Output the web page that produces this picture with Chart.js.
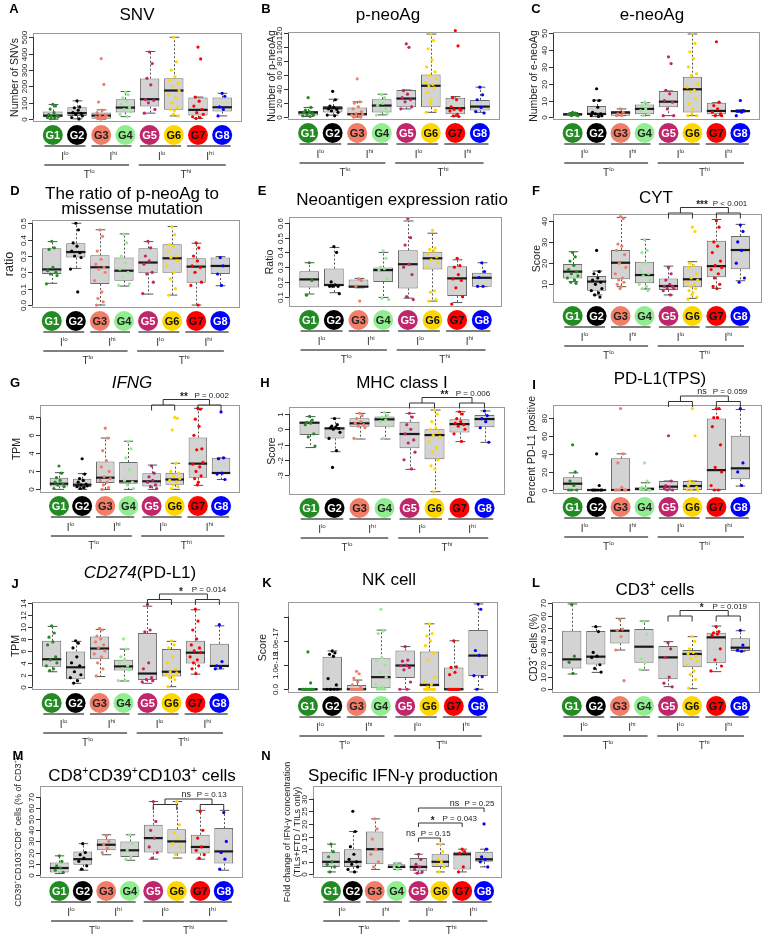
<!DOCTYPE html>
<html>
<head>
<meta charset="utf-8">
<script src="https://cdn.jsdelivr.net/npm/chart.js@4.4.1/dist/chart.umd.min.js"></script>
<style>
  html, body { margin: 0; padding: 0; background: #fff; }
  body { width: 764px; height: 948px; position: relative; overflow: hidden; }
  canvas { position: absolute; }
</style>
</head>
<body>
<script>
/* groups + colours */
const GROUPS = ['G1', 'G2', 'G3', 'G4', 'G5', 'G6', 'G7', 'G8'];
const GROUP_COLORS = ['#228B22', '#000000', '#F27D68', '#90EE90', '#C0266B', '#FFD700', '#FF0000', '#0000FF'];
const CIRCLE_TEXT  = ['#fff', '#fff', '#222', '#222', '#fff', '#111', '#111', '#fff'];
const I_LABELS = ['lo', 'hi', 'lo', 'hi'];
const T_LABELS = ['lo', 'hi'];

/* box stats per group: [lower whisker, q1, median, q3, upper whisker] */
/* A  SNV */
const snvBox = [[0,12,22,47,90],[2,20,37,73,112],[0,3,22,41,57],[16,41,71,122,169],[37,77,122,248,413],[20,57,175,250,500],[5,22,57,132,135],[20,47,73,132,158]];
const snvPts = [[90,80,62,40,28,22,18,14,10,6,3],[112,75,70,55,40,36,30,20,10,2],[370,212,105,55,40,28,22,18,14,12,10,8,5,3,1],[165,150,130,110,90,72,60,45,30,16],[410,340,250,210,120,115,100,60,37],[500,350,300,260,240,220,200,175,150,130,100,70,60,50,30,20],[440,368,135,110,80,60,40,30,15,10,5],[158,140,75,60,20]];
const snvTicks = [0,100,200,300,400,500];

/* B  p-neoAg */
const pneoBox = [[1,2.4,6.7,9,14],[3,6.7,12.9,16,25.7],[0,2.4,4.3,13.8,22],[3.3,6.7,16.7,25.7,32.9],[11.9,14.3,26.7,39,39],[7,14.3,45,61,119],[1,4.3,12.9,28,29.5],[7,9.5,15.2,24.8,43]];
const pneoPts = [[28,14,10,8,7,5,4,3,2,1],[37,25,16,14,12,11,9,7,3,2],[55,22,20,15,12,8,5,4,3,2,1,0,0],[32,28,25,20,17,12,8,5,3],[105,100,38,33,28,25,22,15,12],[119,110,98,82,72,65,60,55,50,47,45,42,35,25,20,10,7],[124,102,28,25,15,12,11,10,9,4,2,1],[43,32,25,14,8,6]];
const pneoTicks = [0,20,40,60,80,100,120];

/* C  e-neoAg */
const eneoBox = [[1,1,1.8,2.4,2.8],[0.4,1.4,2,6.7,10.3],[1,1,2.8,3.8,5],[1,1.8,5,7.7,8.7],[1,6,9.3,15.7,15.7],[1,2.8,16.7,24.2,49.6],[1,1.8,3.8,8.7,8.7],[3,3.1,3.7,4.4,4.5]];
const eneoPts = [[3,2.5,2,2,1.8,1.5,1,1],[17,10,10,6,3,2,2,1,1,0.5],[5,3,2,1,1],[9,8,7,5,4,2,1],[36,32,16,14,10,9,5,1,1],[50,44,39,35,30,26,25,20,18,16,15,11,8,5,2,1,1],[45,9,7,5,3,2,1,1],[10,4,3.6,3,1]];
const eneoTicks = [0,10,20,30,40,50];

/* D  ratio p-neoAg / missense */
const ratioBox = [[0.133,0.19,0.218,0.347,0.388],[0.224,0.29,0.324,0.378,0.5],[0,0.129,0.231,0.304,0.46],[0.116,0.149,0.21,0.29,0.435],[0.067,0.194,0.26,0.347,0.388],[0.061,0.198,0.286,0.371,0.48],[0,0.137,0.235,0.286,0.378],[0.118,0.19,0.239,0.29,0.296]];
const ratioPts = [[0.39,0.35,0.34,0.23,0.21,0.2,0.19,0.18,0.13],[0.5,0.46,0.38,0.36,0.33,0.32,0.3,0.29,0.22,0.08],[0.46,0.42,0.33,0.28,0.25,0.23,0.22,0.2,0.15,0.08,0.04,0.02,0],[0.43,0.38,0.3,0.26,0.22,0.2,0.17,0.13,0.12],[0.39,0.35,0.3,0.27,0.25,0.2,0.19,0.14,0.07],[0.48,0.43,0.37,0.36,0.33,0.3,0.29,0.27,0.24,0.2,0.16,0.1,0.06],[0.38,0.35,0.3,0.27,0.24,0.23,0.2,0.14,0.12,0],[0.29,0.24,0.19,0.12]];
const ratioTicks = [0,0.1,0.2,0.3,0.4,0.5];
const ratioTickText = ['0.0','0.1','0.2','0.3','0.4','0.5'];

/* E  neoantigen expression ratio */
const exprBox = [[0.118,0.163,0.217,0.273,0.33],[0.127,0.172,0.179,0.291,0.433],[0.16,0.163,0.168,0.217,0.224],[0.095,0.2,0.28,0.298,0.4],[0.09,0.156,0.32,0.415,0.613],[0.07,0.285,0.36,0.404,0.53],[0.06,0.105,0.224,0.307,0.35],[0.168,0.168,0.228,0.262,0.33]];
const exprPts = [[0.33,0.21,0.11],[0.44,0.4,0.2,0.18,0.17,0.17,0.17,0.12],[0.22,0.21,0.17,0.07],[0.41,0.36,0.3,0.29,0.28,0.22,0.09,0.08],[0.63,0.5,0.45,0.32,0.3,0.25,0.1,0.08],[0.55,0.43,0.42,0.41,0.39,0.37,0.35,0.33,0.3,0.14,0.13,0.08,0.07],[0.36,0.31,0.3,0.25,0.22,0.21,0.16,0.1,0.05],[0.33,0.27,0.23,0.17,0.17]];
const exprTicks = [0.1,0.2,0.3,0.4,0.5,0.6];

/* F  CYT */
const cytBox = [[11.3,12.8,16,19.6,25.4],[5,7,11.3,13.9,16.3],[8.9,12.4,20.2,26.2,41.6],[7.8,10.5,14.4,20.7,31.2],[5,7.3,9.2,12.8,18.6],[3.4,8.6,12.4,18.6,20.7],[8.1,13.3,18.6,30.6,40.6],[11.7,17.1,26.2,32.8,38.3]];
const cytPts = [[25,23,21,19,17,16,15,14,13,12,11,10.5],[26,16,15,13,12,11,10,8,7,6,5,4],[42,41,29,28,26,24,20,18,15,13,12,11,10,9,8],[31,26,25,20,16,15,14,12,10,9,8,7],[18,15,12,10,9,9,8,8,7,5],[37,35,20,19,18,15,13,12,11,10,9,8,7,6,5,4,3],[40,37,30,28,25,21,19,18,17,15,13,10,9,8],[38,35,30,26,20,13,11]];
const cytTicks = [10,20,30,40];

/* G  IFNG */
const ifngBox = [[0,0.33,0.63,1.3,1.86],[0,0.26,0.52,1.19,1.75],[0,0.7,1.3,3.1,5.7],[0,0.63,0.9,3.05,5.35],[0,0.33,0.9,1.8,2.7],[0,0.52,1.1,1.86,2.9],[0.45,1.3,2.86,5.76,9.0],[1.1,1.75,1.82,3.5,3.5]];
const ifngPts = [[2.6,1.8,1.3,1.0,0.8,0.6,0.5,0.3,0.1],[3.4,1.7,1.2,1.0,0.8,0.6,0.5,0.4,0.3,0.2,0.1],[6.8,5.7,4.3,3.2,2.5,2.0,1.4,1.2,1.0,0.8,0.5,0.2,0],[5.3,4.5,3.5,2.2,1.0,0.8,0.5,0.1],[2.6,1.8,1.4,1.0,0.8,0.5,0.3,0.1],[8.0,7.9,6.6,2.9,2.0,1.8,1.5,1.2,1.0,0.8,0.5,0.3,0.1],[9.0,8.9,7.8,7.0,6.0,4.5,4.4,3.0,2.8,2.5,2.0,1.5,1.2,0.8,0.5],[8.6,3.5,3.4,1.8,1.7,1.1]];
const ifngTicks = [0,2,4,6,8];

/* H  MHC class I */
const mhcBox = [[-1.2,-0.38,0.43,0.48,0.83],[-1.47,-0.6,0.06,0.1,0.72],[-0.64,0.17,0.39,0.72,1.04],[-0.64,0.17,0.65,0.83,1.1],[-2.63,-1.25,-0.31,0.5,1.04],[-4.09,-1.97,-0.38,0,1.26],[-0.81,-0.22,0.34,0.65,1.15],[-0.86,0.13,0.67,0.93,1.2]];
const mhcPts = [[0.85,0.6,0.45,0.4,0.3,-0.3,-0.5,-1.1],[0.7,0.3,0.2,0.15,0.1,0.05,0,-0.2,-0.6,-1.4,-2.5],[1.05,0.9,0.7,0.5,0.4,0.3,0.2,0.1,-0.6],[1.1,0.9,0.8,0.6,0.5,0.2,-0.6],[1.05,0.8,0.3,0,-0.3,-0.7,-0.9,-1.5,-2,-2.6],[1.25,1.0,0.5,0.1,0,-0.2,-0.4,-0.5,-0.8,-1.2,-1.5,-2,-2.4,-2.6,-4.1],[1.15,1.0,0.7,0.5,0.4,0.3,0.2,0,-0.3,-0.8],[1.2,0.9,0.7,0.5,0.1,-0.85]];
const mhcTicks = [-3,-2,-1,0,1];

/* I  PD-L1 (TPS) */
const pdl1Box = [[0,0,7,14,19],[0,0,0,0,0],[0,0,0,35,40],[0,0,1,3,8],[0,0,3.7,10,10],[0,0,4.4,10,10],[0,0,22,79,89],[4.4,12,24,60,89]];
const pdl1Pts = [[50,20,10,5,0,0,0],[40,5,0,0,0,0,0,0],[90,40,30,3,0,0,0,0,0],[30,10,3,2,1,0,0,0],[60,10,5,3,2,0,0],[90,60,10,8,5,3,0,0,0],[90,90,80,80,70,50,25,20,5,0,0],[90,30,20,5]];
const pdl1Ticks = [0,20,40,60,80];

/* J  CD274 (PD-L1) */
const cd274Box = [[2.5,3.36,4.6,7.7,10.1],[0.56,1.23,3.25,5.9,7.6],[1.7,4.6,6.4,8.4,9.6],[0.95,2.7,3.4,4.5,6.3],[0.56,1.1,2.2,9,13.5],[0,1.7,2.5,6.3,7.6],[2.1,3.9,5.7,7.7,12.9],[2.97,3.36,3.47,7.2,10.2]];
const cd274Pts = [[10.2,9,8.3,7.5,7,5,4.5,4,3.5,3,2.7],[7.7,7.3,6.5,5,4,3.5,2.5,2,1.5,1,0.6],[9.8,9.5,8.5,8,7.5,7,6.5,6,5.5,5,4,3,1.8],[8,6.3,5,4.5,4,3.5,3,2.8,1,1],[13.8,9.5,9.2,4,3,1.5,1.2,1.0,0.8],[7.7,7,6.5,5,4,3,2.5,2.3,2,1.8,1.5,1.2,0],[13,11,9.5,8,7,6.5,6,5.7,5,4.5,4,3.5,3,2.2],[10.4,4.2,3.5,3.2,3]];
const cd274Ticks = [0,2,4,6,8,10,12,14];

/* K  NK cell (score in units of 1e-18) */
const nkBox = [[0,0,0,0,0],[0,0,0,6.7,7.9],[0,0,0,0.9,1.9],[0,0.2,2.5,6.4,12.2],[0,2.3,4.9,8,8.8],[0,0.55,0.9,7.8,13.5],[0,0,0,4.5,10],[0,2.75,6.95,12.25,17.6]];
const nkPts = [[7.7,1.3,0,0,0,0,0,0,0,0,0,0],[7.9,7.5,7.2,6.8,2.2,0.9,0,0,0,0,0],[3.7,3.2,2.3,1.5,0.9,0.5,0,0,0,0,0,0,0,0],[16.5,12,11.5,6.5,6,5,3.5,2.5,1,0.5,0.3,0,0,0],[8.8,6,5.8,5,4.9,4.5,4,1.5,0,0],[13.5,11.5,11,10,9,7.5,6,2.5,1.5,1,0.5,0,0,0,0,0,0,0,0,0,0],[10,4.6,4.5,3.5,3,0,0,0,0,0,0,0,0,0,0],[17.6,16.5,8,7,2.8,2.6,0]];
const nkTicks = [0,5,10,15];
const nkTickText = ['0.0','1.0e-18','1.0e-17',''];

/* L  CD3+ cells */
const cd3Box = [[12.5,17,24.4,47.7,69.5],[13.8,20.3,26.6,47.5,51],[32,37.4,47.7,48.3,57.8],[15.7,21.7,34.7,49.1,55.6],[2.2,8.1,26,35.3,38.8],[0.5,17.9,28.8,32,42.9],[14.4,21.2,42.3,46.1,51.5],[30.7,31.2,33.9,41.5,47.7]];
const cd3Pts = [[69,27,22,13],[51,47,30,27,26,20,17,14],[57,49,48,43,32,7],[55,45,25,22,16],[38,33,26,10,5,2],[43,39,33,30,29,27,25,23,20,15,12,8,1],[51,47,46,45,44,33,24,19,15],[48,36,32,31]];
const cd3Ticks = [0,10,20,30,40,50,60,70];

/* M  CD8+CD39+CD103+ cells */
const cd8Box = [[1,2,6,11,17],[4,9,14,21,28],[18,22,27,32,36],[13,16,22,30,36],[14,20,33,45,66],[15,19,30,41,66],[14,19,25,36,58],[4,10,21,42,58]];
const cd8Pts = [[17,12,8,6,4,2],[28,20,18,15,12,8,5],[35,30,27,24,20],[36,28,22,16,14],[66,48,40,33,25,20,15],[66,45,38,33,28,25,18],[57,40,33,25,22,18,15],[56,30,20,14,5]];
const cd8Ticks = [0,10,20,30,40,50,60,70];

/* N  Specific IFN-gamma production */
const ifnBox = [[1,3,5,9,12],[1,3,5,10,17],[2,4,10,17,22],[2,2.5,3,4,4.5],[0.5,1.5,3,6.5,8],[1,3,5,8,12],[1,2,8,9,10],[3,5,6,9,10]];
const ifnPts = [[12,9,7,5,4,3,1],[25,17,11,8,6,5,4,3,2,1],[22,18,14,10,8,5,3],[4.5,3.5,3,2],[8,6,4,3,2,1,0.5],[12,9,6,5,4,3,1],[10,9,8.5,3,1],[20,10,7,6,5,3]];
const ifnTicks = [0,5,10,15,20,25,30];

const FONT = '"Liberation Sans", Arial, Helvetica, sans-serif';
const PAGE_W = 764;
const JIT = [0, 0.11, -0.11, 0.05, -0.17, 0.17, -0.05, 0.22, -0.22, 0.08, -0.08, 0.14, -0.14, 0.02, -0.02, 0.19, -0.19, 0.1, -0.1, 0.2, -0.2];
const sup = t => ({ t, sup: true });

const panels = [
  { letter: 'A', lpos: [14, 8],  title: [[{t:'SNV'}]], tpos: [137, 14], ylab: [[{t:'Number of SNVs'}]], ylabOff: 19,
    box: snvBox, pts: snvPts, ticks: snvTicks, ymin: -17, ymax: 526, plot: [33, 33, 242, 122] },
  { letter: 'B', lpos: [266, 8], title: [[{t:'p-neoAg'}]], tpos: [388, 14], ylab: [[{t:'Number of p-neoAg'}]], ylabOff: 17,
    box: pneoBox, pts: pneoPts, ticks: pneoTicks, ymin: -4, ymax: 122, plot: [288, 32, 500, 120] },
  { letter: 'C', lpos: [536, 8], title: [[{t:'e-neoAg'}]], tpos: [652, 14], ylab: [[{t:'Number of e-neoAg'}]], ylabOff: 20,
    box: eneoBox, pts: eneoPts, ticks: eneoTicks, ymin: -1.6, ymax: 50.8, plot: [553, 32, 760, 120] },
  { letter: 'D', lpos: [15, 190], title: [[{t:'The ratio of p-neoAg to'}], [{t:'missense mutation'}]], tpos: [132, 193], ylab: [[{t:'ratio'}]], ylabOff: 24, ylabSize: 12.5,
    box: ratioBox, pts: ratioPts, ticks: ratioTicks, tickText: ratioTickText, ymin: -0.018, ymax: 0.52, plot: [32, 220, 240, 308] },
  { letter: 'E', lpos: [262, 190], title: [[{t:'Neoantigen expression ratio'}]], tpos: [402, 199], ylab: [[{t:'Ratio'}]], ylabOff: 20,
    box: exprBox, pts: exprPts, ticks: exprTicks, ymin: 0.03, ymax: 0.64, plot: [289, 217, 502, 307] },
  { letter: 'F', lpos: [536, 190], title: [[{t:'CYT'}]], tpos: [656, 197], ylab: [[{t:'Score'}]], ylabOff: 17,
    box: cytBox, pts: cytPts, ticks: cytTicks, ymin: 1.2, ymax: 43.2, plot: [553, 214, 762, 303],
    sig: { top: 207.5, stars: '***', p: 'P < 0.001' } },
  { letter: 'G', lpos: [15, 382], title: [[{t:'IFNG', it: true}]], tpos: [132, 382], ylab: [[{t:'TPM'}]], ylabOff: 24,
    box: ifngBox, pts: ifngPts, ticks: ifngTicks, ymin: -0.4, ymax: 9.37, plot: [40, 405, 240, 493],
    sig: { top: 399.5, stars: '**', p: 'P = 0.002' } },
  { letter: 'H', lpos: [265, 382], title: [[{t:'MHC class I'}]], tpos: [402, 382], ylab: [[{t:'Score'}]], ylabOff: 18,
    box: mhcBox, pts: mhcPts, ticks: mhcTicks, ymin: -4.31, ymax: 1.46, plot: [289, 407, 505, 495],
    sig: { top: 397.5, stars: '**', p: 'P = 0.006' } },
  { letter: 'I', lpos: [534, 384], title: [[{t:'PD-L1(TPS)'}]], tpos: [660, 378], ylab: [[{t:'Percent PD-L1 positive'}]], ylabOff: 22,
    box: pdl1Box, pts: pdl1Pts, ticks: pdl1Ticks, ymin: -4.4, ymax: 94, plot: [553, 405, 762, 494],
    sig: { top: 396, stars: 'ns', p: 'P = 0.059' } },
  { letter: 'J', lpos: [15, 583], title: [[{t:'CD274', it: true}, {t:'(PD-L1)'}]], tpos: [140, 572], ylab: [[{t:'TPM'}]], ylabOff: 17,
    box: cd274Box, pts: cd274Pts, ticks: cd274Ticks, ymin: -0.56, ymax: 14.2, plot: [32, 602, 239, 690],
    sig: { top: 594, stars: '*', p: 'P = 0.014' } },
  { letter: 'K', lpos: [267, 582], title: [[{t:'NK cell'}]], tpos: [389, 579], ylab: [[{t:'Score'}]], ylabOff: 26, tickOff: 12,
    box: nkBox, pts: nkPts, ticks: nkTicks, tickText: nkTickText, ymin: -0.77, ymax: 18.0, plot: [288, 602, 498, 693] },
  { letter: 'L', lpos: [536, 582], title: [[{t:'CD3'}, sup('+'), {t:' cells'}]], tpos: [655, 589], ylab: [[{t:'CD3'}, sup('+'), {t:' cells (%)'}]], ylabOff: 19,
    box: cd3Box, pts: cd3Pts, ticks: cd3Ticks, ymin: -3, ymax: 71.1, plot: [552, 602, 760, 693],
    sig: { top: 610.5, stars: '*', p: 'P = 0.019' } },
  { letter: 'M', lpos: [18, 755], title: [[{t:'CD8'}, sup('+'), {t:'CD39'}, sup('+'), {t:'CD103'}, sup('+'), {t:' cells'}]], tpos: [142, 775],
    ylab: [[{t:'CD39'}, sup('+'), {t:'CD103'}, sup('+'), {t:'CD8'}, sup('+'), {t:' cells (% of CD3'}, sup('+'), {t:')'}]], ylabOff: 22, ylabSize: 9,
    box: cd8Box, pts: cd8Pts, ticks: cd8Ticks, ymin: -3, ymax: 80, plot: [40, 786, 243, 878],
    sig: { top: 799, stars: 'ns', p: 'P = 0.13' } },
  { letter: 'N', lpos: [266, 755], title: [[{t:'Specific IFN-\u03b3 production'}]], tpos: [403, 775],
    ylab: [[{t:'Fold change of IFN-\u03b3 concentration'}], [{t:'(TILs+FTD / TILs only)'}]], ylabOff: 16, ylabSize: 9,
    box: ifnBox, pts: ifnPts, ticks: ifnTicks, ymin: -1.4, ymax: 35, plot: [313, 786, 502, 878],
    singles: [ { y: 808, to: 8, stars: 'ns', p: 'P = 0.25' }, { y: 823, to: 7, stars: '*', p: 'P = 0.043' }, { y: 838, to: 6, stars: 'ns', p: 'P = 0.15' } ] }
];

function segFont(s, size) {
  return (s.it ? 'italic ' : '') + (s.b ? 'bold ' : '') + (s.sup ? size * 0.62 : size).toFixed(1) + 'px ' + FONT;
}

/* draw a run of text pieces (superscripts, italics) centred on x,y */
function textRich(ctx, segs, x, y, size, rotate) {
  ctx.save();
  ctx.translate(x, y);
  if (rotate) ctx.rotate(-Math.PI / 2);
  let w = 0;
  segs.forEach(s => { ctx.font = segFont(s, size); w += ctx.measureText(s.t).width; });
  let px = -w / 2;
  ctx.textAlign = 'left';
  ctx.textBaseline = 'alphabetic';
  segs.forEach(s => {
    ctx.font = segFont(s, size);
    ctx.fillText(s.t, px, size * 0.36 - (s.sup ? size * 0.42 : 0));
    px += ctx.measureText(s.t).width;
  });
  ctx.restore();
}

function hline(ctx, x1, x2, y) { ctx.beginPath(); ctx.moveTo(x1, y); ctx.lineTo(x2, y); ctx.stroke(); }
function vline(ctx, x, y1, y2) { ctx.beginPath(); ctx.moveTo(x, y1); ctx.lineTo(x, y2); ctx.stroke(); }

function drawSig(ctx, stars, ptxt, sx, px, y) {
  ctx.textBaseline = 'middle';
  ctx.textAlign = 'center';
  ctx.font = (stars === 'ns' ? '9px ' : 'bold 10px ') + FONT;
  ctx.fillText(stars, sx, stars === 'ns' ? y : y + 2);
  ctx.textAlign = 'left';
  ctx.font = '8px ' + FONT;
  ctx.fillText(ptxt, px, y);
}

function makeDecor(p, cy) {
  return {
    id: 'boxDecor',
    beforeDatasetsDraw(chart) {
      const ctx = chart.ctx, xs = chart.scales.x, ys = chart.scales.y;
      const bars = chart.getDatasetMeta(1).data;
      ctx.save();
      ctx.strokeStyle = '#555';
      ctx.lineWidth = 1;
      p.box.forEach((b, i) => {
        const x = Math.round(xs.getPixelForValue(i + 1)) + 0.5;
        const bw = bars[i].width;
        ctx.setLineDash([2, 2]);
        vline(ctx, x, ys.getPixelForValue(b[3]), ys.getPixelForValue(b[4]));
        vline(ctx, x, ys.getPixelForValue(b[1]), ys.getPixelForValue(b[0]));
        ctx.setLineDash([]);
        hline(ctx, x - bw / 4, x + bw / 4, ys.getPixelForValue(b[4]));
        hline(ctx, x - bw / 4, x + bw / 4, ys.getPixelForValue(b[0]));
      });
      ctx.restore();
    },
    afterDatasetDraw(chart, args) {
      if (args.meta.type !== 'bar') return;
      const ctx = chart.ctx, xs = chart.scales.x, ys = chart.scales.y;
      ctx.save();
      ctx.strokeStyle = '#1a1a1a';
      ctx.lineWidth = 2.2;
      p.box.forEach((b, i) => {
        const x = xs.getPixelForValue(i + 1), bw = args.meta.data[i].width;
        hline(ctx, x - bw / 2, x + bw / 2, ys.getPixelForValue(b[2]));
      });
      ctx.restore();
    },
    afterDraw(chart) {
      const ctx = chart.ctx, xs = chart.scales.x, ys = chart.scales.y;
      const AX = v => xs.getPixelForValue(v);
      const AY = v => cy + ys.getPixelForValue(v);
      const [l, t, r, b] = p.plot;
      ctx.save();
      ctx.translate(0, -cy);

      // frame
      ctx.strokeStyle = '#9a9a9a';
      ctx.lineWidth = 1;
      ctx.strokeRect(l + 0.5, t + 0.5, r - l - 1, b - t - 1);

      // y axis, ticks and rotated labels
      ctx.strokeStyle = '#333';
      const tk = p.ticks;
      vline(ctx, l + 0.5, AY(tk[0]), AY(tk[tk.length - 1]));
      ctx.fillStyle = '#222';
      tk.forEach((v, k) => {
        const y = Math.round(AY(v)) + 0.5;
        hline(ctx, l - 4, l, y);
        const txt = p.tickText ? p.tickText[k] : String(v);
        ctx.save();
        ctx.translate(l - (p.tickOff || 8), y);
        ctx.rotate(-Math.PI / 2);
        ctx.font = '8px ' + FONT;
        ctx.textAlign = 'center';
        ctx.textBaseline = 'middle';
        ctx.fillText(txt, 0, 0);
        ctx.restore();
      });

      // y label (one or two lines)
      const ysz = p.ylabSize || 10.5;
      const nl = p.ylab.length;
      p.ylab.forEach((segs, k) => {
        textRich(ctx, segs, l - p.ylabOff - (nl - 1 - k) * (ysz + 1.5), (t + b) / 2, ysz, true);
      });

      // panel letter and title
      ctx.fillStyle = '#000';
      textRich(ctx, [{ t: p.letter, b: true }], p.lpos[0], p.lpos[1], 13);
      p.title.forEach((segs, k) => textRich(ctx, segs, p.tpos[0], p.tpos[1] + k * 15, 17));

      // group circles
      const cyc = b + 13;
      GROUPS.forEach((g, i) => {
        const x = AX(i + 1);
        ctx.beginPath();
        ctx.arc(x, cyc, 10, 0, Math.PI * 2);
        ctx.fillStyle = GROUP_COLORS[i];
        ctx.fill();
        ctx.fillStyle = CIRCLE_TEXT[i];
        ctx.font = 'bold 11px ' + FONT;
        ctx.textAlign = 'center';
        ctx.textBaseline = 'middle';
        ctx.fillText(g, x, cyc + 0.5);
      });

      // I / T group lines
      ctx.strokeStyle = '#555';
      ctx.lineWidth = 1.3;
      ctx.fillStyle = '#333';
      const iSpans = [[0.65, 2.35], [2.6, 4.25], [4.6, 6.3], [6.55, 8.35]];
      iSpans.forEach((s, k) => {
        hline(ctx, AX(s[0]), AX(s[1]), cyc + 11);
        textRich(ctx, [{ t: 'I' }, sup(I_LABELS[k])], AX(1.5 + 2 * k), cyc + 21, 10);
      });
      const tSpans = [[0.65, 4.15], [4.55, 8.15]];
      tSpans.forEach((s, k) => {
        hline(ctx, AX(s[0]), AX(s[1]), cyc + 30);
        textRich(ctx, [{ t: 'T' }, sup(T_LABELS[k])], AX(2.5 + 4 * k), cyc + 39, 10);
      });

      // significance brackets
      ctx.strokeStyle = '#333';
      ctx.lineWidth = 1;
      ctx.fillStyle = '#222';
      if (p.sig) {
        const s = p.sig, y0 = s.top, y1 = s.top + 5.5, y2 = s.top + 11;
        [[5, 6], [7, 8]].forEach(pr => {
          hline(ctx, AX(pr[0]), AX(pr[1]), y1);
          vline(ctx, AX(pr[0]), y1, y2);
          vline(ctx, AX(pr[1]), y1, y2);
        });
        hline(ctx, AX(5.5), AX(7.5), y0);
        vline(ctx, AX(5.5), y0, y1);
        vline(ctx, AX(7.5), y0, y1);
        drawSig(ctx, s.stars, s.p, AX(6.4), AX(6.85), y0 - 4);
      }
      if (p.singles) {
        p.singles.forEach(s => {
          hline(ctx, AX(5), AX(s.to), s.y);
          vline(ctx, AX(5), s.y, s.y + 4);
          vline(ctx, AX(s.to), s.y, s.y + 4);
          drawSig(ctx, s.stars, s.p, AX(s.to - 1.35), AX(s.to - 0.9), s.y - 4);
        });
      }
      ctx.restore();
    }
  };
}

function makePanel(p) {
  const cy = p.plot[1] - 50;
  const ch = p.plot[3] - p.plot[1] + 110;
  const cv = document.createElement('canvas');
  cv.width = PAGE_W;
  cv.height = ch;
  cv.style.left = '0px';
  cv.style.top = cy + 'px';
  cv.style.width = PAGE_W + 'px';
  cv.style.height = ch + 'px';
  document.body.appendChild(cv);

  const boxData = p.box.map((q, i) => ({ x: i + 1, y: [q[1], q[3]] }));
  const ptData = [], ptColors = [];
  p.pts.forEach((arr, i) => arr.forEach((v, j) => {
    ptData.push({ x: i + 1 + JIT[j % JIT.length], y: v });
    ptColors.push(GROUP_COLORS[i]);
  }));

  new Chart(cv, {
    type: 'bar',
    data: {
      datasets: [
        { type: 'scatter', data: ptData, pointRadius: 1.6, pointBorderWidth: 0,
          pointBackgroundColor: ptColors, clip: false, order: 1 },
        { type: 'bar', data: boxData, backgroundColor: '#d3d3d3', borderColor: '#6b6b6b',
          borderWidth: 1, borderSkipped: false, barPercentage: 1, categoryPercentage: 0.8, order: 2 }
      ]
    },
    options: {
      responsive: false,
      animation: false,
      events: [],
      layout: { padding: { left: p.plot[0], top: 50, right: PAGE_W - p.plot[2], bottom: ch - 50 - (p.plot[3] - p.plot[1]) } },
      plugins: { legend: { display: false }, tooltip: { enabled: false } },
      scales: {
        x: { type: 'linear', offset: false, display: false, min: 0.18, max: 8.82,
             afterBuildTicks: s => { s.ticks = GROUPS.map((g, i) => ({ value: i + 1 })); } },
        y: { display: false, min: p.ymin, max: p.ymax }
      }
    },
    plugins: [makeDecor(p, cy)]
  });
}

panels.forEach(makePanel);
</script>
</body>
</html>
